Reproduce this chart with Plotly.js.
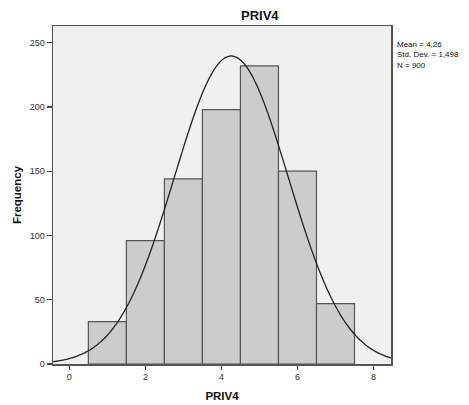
<!DOCTYPE html>
<html>
<head>
<meta charset="utf-8">
<script src="https://cdn.plot.ly/plotly-3.0.1.min.js"></script>
<style>html,body{margin:0;padding:0;background:#fff;}#chart{width:469px;height:405px;}</style>
</head>
<body>
<div id="chart"></div>
<script>
// Histogram bins (bin centres) and frequencies
const binCenters = [1, 2, 3, 4, 5, 6, 7];
const frequencies = [33, 96, 144, 198, 232, 150, 47];
// Reported statistics
const statMean = 4.26;
const statSD = 1.498;
const statN = 900;
const binWidth = 1;
const statLabels = ["Mean = 4,26", "Std. Dev. = 1,498", "N = 900"];
const xTicks = [0, 2, 4, 6, 8];
const yTicks = [0, 50, 100, 150, 200, 250];

const xRange = [-0.43, 8.46];
const yRange = [0, 263];

// Fitted normal curve from the reported mean, SD and N
const curveX = [], curveY = [];
for (let i = 0; i <= 200; i++) {
  const x = xRange[0] + (xRange[1] - xRange[0]) * i / 200;
  const z = (x - statMean) / statSD;
  curveX.push(x);
  curveY.push(statN * binWidth / (statSD * Math.sqrt(2 * Math.PI)) * Math.exp(-0.5 * z * z));
}

const font = "Liberation Sans, Arial, sans-serif";

const traces = [
  {
    type: "bar", x: binCenters, y: frequencies, width: binWidth,
    marker: {color: "#cccccc", line: {color: "#555555", width: 1.2}},
    hoverinfo: "x+y", showlegend: false
  },
  {
    type: "scatter", mode: "lines", x: curveX, y: curveY,
    line: {color: "#222222", width: 1.3, shape: "spline"},
    hoverinfo: "skip", showlegend: false
  }
];

const annotations = [{
  text: statLabels.join("<br>"), xref: "paper", yref: "paper",
  x: 1.016, y: 0.962, xanchor: "left", yanchor: "top", align: "left",
  showarrow: false, borderpad: 0, font: {family: font, size: 8, color: "#111"}
}];

const layout = {
  width: 469, height: 405,
  margin: {l: 53, r: 78, t: 26, b: 41},
  paper_bgcolor: "#ffffff",
  plot_bgcolor: "#f0f0f0",
  bargap: 0,
  title: {text: "<b>PRIV4</b>", x: 0.554, xanchor: "center", y: 0.963, yanchor: "middle",
          font: {family: font, size: 13, color: "#111"}},
  xaxis: {
    range: xRange, tickvals: xTicks, ticktext: xTicks.map(String),
    ticks: "outside", ticklen: 4, tickcolor: "#444", tickwidth: 1.2,
    showline: true, linecolor: "#555", linewidth: 1.5, mirror: true,
    showgrid: false, zeroline: false,
    tickfont: {family: font, size: 9, color: "#333"},
    title: {text: "<b>PRIV4</b>", font: {family: font, size: 11.5, color: "#111"}, standoff: 10}
  },
  yaxis: {
    range: yRange, tickvals: yTicks, ticktext: yTicks.map(String),
    ticks: "outside", ticklen: 5, tickcolor: "#444", tickwidth: 1.2,
    showline: true, linecolor: "#555", linewidth: 1.5, mirror: true,
    showgrid: false, zeroline: false,
    tickfont: {family: font, size: 9, color: "#333"},
    title: {text: "<b>Frequency</b>", font: {family: font, size: 11.5, color: "#111"}, standoff: 5}
  },
  annotations: annotations
};

Plotly.newPlot("chart", traces, layout, {displayModeBar: false, staticPlot: true});
</script>
</body>
</html>
